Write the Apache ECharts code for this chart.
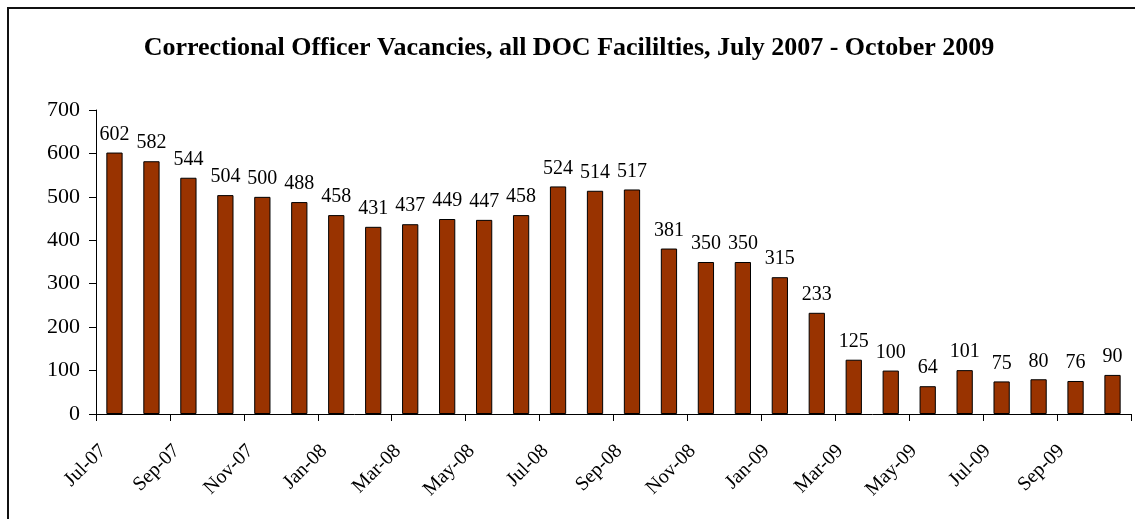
<!DOCTYPE html>
<html>
<head>
<meta charset="utf-8">
<script src="https://cdn.jsdelivr.net/npm/echarts@6/dist/echarts.min.js"></script>
<style>
  html, body { margin: 0; padding: 0; background: #fff; }
  #chart_box { width: 1135px; height: 519px; }
</style>
</head>
<body>
<div id="chart_box"></div>
<script>
const months = [
  "Jul-07", "Aug-07", "Sep-07", "Oct-07", "Nov-07", "Dec-07",
  "Jan-08", "Feb-08", "Mar-08", "Apr-08", "May-08", "Jun-08",
  "Jul-08", "Aug-08", "Sep-08", "Oct-08", "Nov-08", "Dec-08",
  "Jan-09", "Feb-09", "Mar-09", "Apr-09", "May-09", "Jun-09",
  "Jul-09", "Aug-09", "Sep-09", "Oct-09"
];
const vacancies = [
  602, 582, 544, 504, 500, 488,
  458, 431, 437, 449, 447, 458,
  524, 514, 517, 381, 350, 350,
  315, 233, 125, 100, 64, 101,
  75, 80, 76, 90
];
const yTicks = [0, 100, 200, 300, 400, 500, 600, 700];

const font = "'Liberation Serif', 'Times New Roman', serif";

let myChart = echarts.init(document.getElementById("chart_box"));

const option = {
  animation: false,
  textStyle: { fontFamily: font },
  title: {
    text: "Correctional Officer Vacancies, all DOC Facililties, July 2007 - October 2009",
    left: 564,
    textAlign: "center",
    top: 30,
    textStyle: { fontFamily: font, fontSize: 26, fontWeight: "bold", color: "#000" }
  },
  graphic: [
    {
      type: "rect",
      shape: { x: 8, y: 8, width: 1200, height: 600 },
      style: { fill: "none", stroke: "#111", lineWidth: 2 },
      silent: true
    }
  ],
  grid: [
    { left: 96, right: 4, top: 110, bottom: 105, containLabel: false },
    // second grid only carries the month labels, nudged a little right
    { left: 103, right: -3, top: 110, bottom: 105, containLabel: false }
  ],
  xAxis: [
    {
      type: "category",
      gridIndex: 0,
      data: months,
      axisLine: { lineStyle: { color: "#000", width: 1 } },
      axisTick: { show: true, interval: 1, length: 7, lineStyle: { color: "#000" } },
      axisLabel: { show: false }
    },
    {
      type: "value",
      gridIndex: 1,
      position: "bottom",
      min: 0,
      max: months.length,
      interval: 2,
      axisLine: { show: false },
      axisTick: { show: false },
      splitLine: { show: false },
      axisLabel: {
        rotate: 45,
        margin: 34,
        fontFamily: font,
        fontSize: 20,
        color: "#000",
        showMaxLabel: false,
        formatter: function (v) {
          return months[v] || "";
        }
      }
    }
  ],
  yAxis: [
    {
      type: "value",
      gridIndex: 0,
      min: yTicks[0],
      max: yTicks[yTicks.length - 1],
      interval: 100,
      axisLine: { show: true, lineStyle: { color: "#000", width: 1 } },
      axisTick: { show: true, length: 7, lineStyle: { color: "#000" } },
      splitLine: { show: false },
      axisLabel: { fontFamily: font, fontSize: 22, color: "#000", margin: 16 }
    },
    {
      type: "value",
      gridIndex: 1,
      show: false
    }
  ],
  series: [
    {
      type: "bar",
      xAxisIndex: 0,
      yAxisIndex: 0,
      data: vacancies,
      barWidth: "44%",
      itemStyle: { color: "#993300", borderColor: "#000", borderWidth: 1 },
      label: {
        show: true,
        position: "top",
        distance: 8,
        fontFamily: font,
        fontSize: 20,
        color: "#000"
      }
    }
  ]
};

myChart.setOption(option);
</script>
</body>
</html>
